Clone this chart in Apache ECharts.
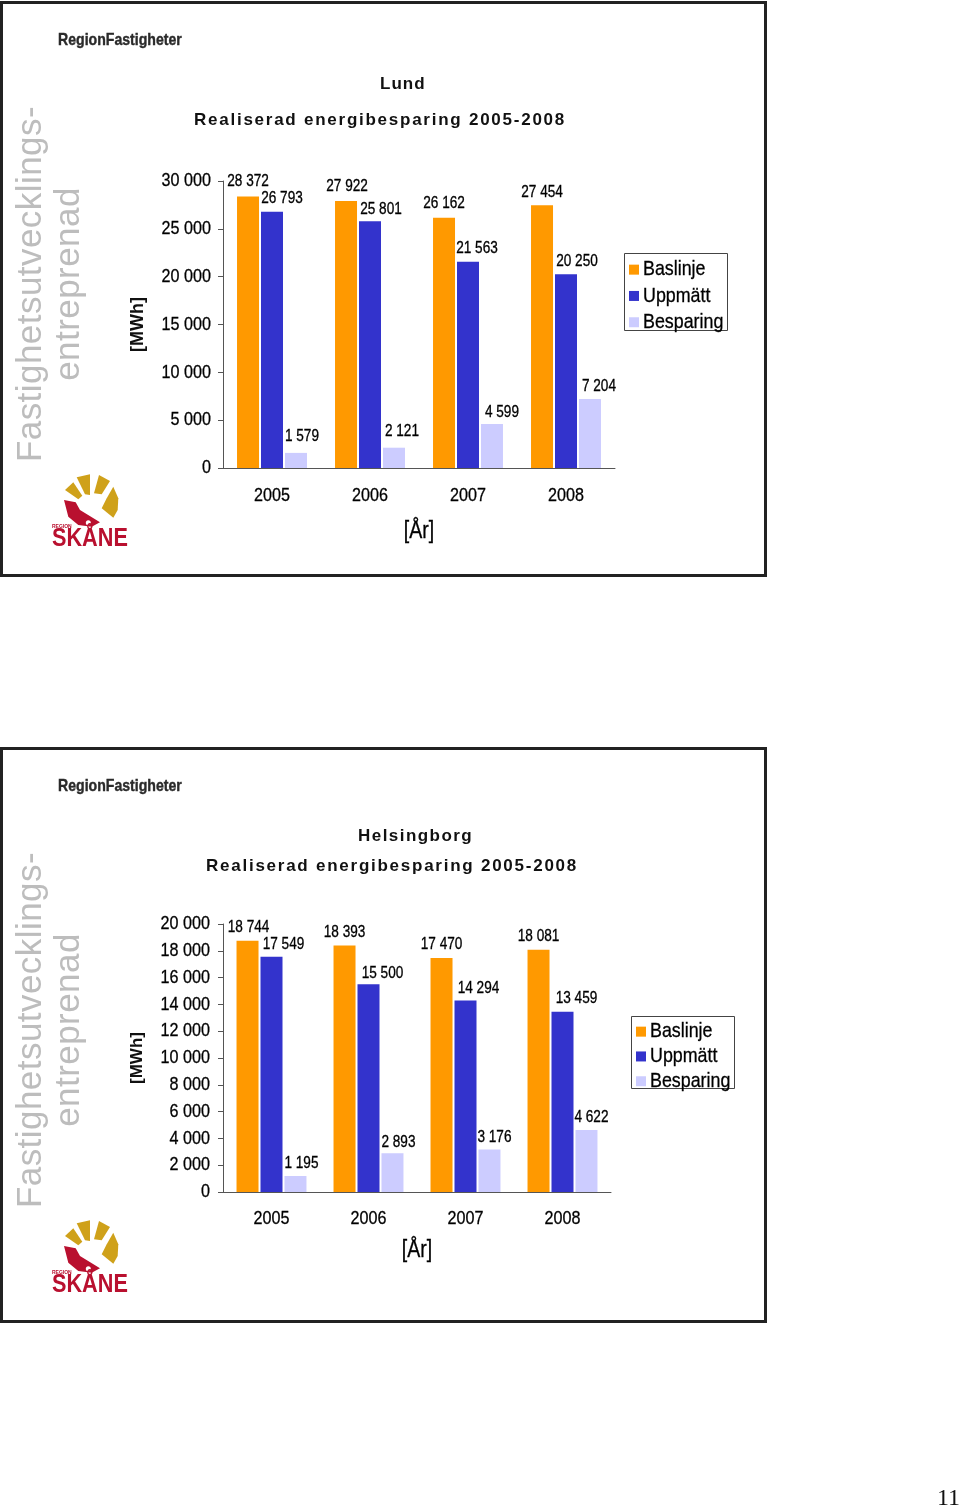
<!DOCTYPE html>
<html><head><meta charset="utf-8">
<style>html,body{margin:0;padding:0;background:#fff}#c{width:960px;height:1507px}</style>
<script src="https://cdn.jsdelivr.net/npm/echarts@6/dist/echarts.min.js"></script>
</head><body><div id="c"></div>
<script>
const categories = ['2005','2006','2007','2008'];
const seriesNames = ['Baslinje','Uppmätt','Besparing'];
const colors = ['#FF9900','#3333CC','#CCCCFF'];

const lundBaslinje = [28372,27922,26162,27454];
const lundUppmatt  = [26793,25801,21563,20250];
const lundBesparing= [1579,2121,4599,7204];

const hbgBaslinje  = [18744,18393,17470,18081];
const hbgUppmatt   = [17549,15500,14294,13459];
const hbgBesparing = [1195,2893,3176,4622];

// label displacement from the default "above bar" spot
const lundShift = [
  [[0,-3],[1,-2],[0,-2],[0,-1]],
  [[10,-1],[11,0],[9,-1],[11,-1]],
  [[6,-4],[8,-4],[10,1],[9,0]]
];
const hbgShift = [
  [[1,-1],[0,-1],[0,-1],[0,-1]],
  [[12,0],[14,1],[13,0],[14,-1]],
  [[6,0],[6,1],[5,0],[5,0]]
];

// No narrow face is installed: text asking for it is drawn in Liberation Sans, condensed.
const NARROW = '"Liberation Sans Narrow","Liberation Sans",Arial,sans-serif';
const SANS = '"Liberation Sans",Arial,sans-serif';
const CONDENSE = 0.85;
const fmt = v => String(v).replace(/\B(?=(\d{3})+$)/g,' ');
const HEAVY = {textBorderColor:'#000',textBorderWidth:0.3};

const tracked = {'Lund':1.0,'Helsingborg':1.45,'Realiserad energibesparing 2005-2008':1.75,
  'Fastighetsutvecklings-':0.45,'entreprenad':0.45};
function wrap(name){
  const orig = CanvasRenderingContext2D.prototype[name];
  CanvasRenderingContext2D.prototype[name] = function(t,x,y,m){
    const s = tracked[t];
    if (s && 'letterSpacing' in this){
      this.save();
      this.letterSpacing = s+'px';
      orig.call(this,t,x,y);
      this.letterSpacing = '0px';
      this.restore();
      return;
    }
    if (/Narrow/.test(this.font)){
      this.save();
      this.translate(x,y);
      this.scale(CONDENSE,1);
      orig.call(this,t,0,0);
      this.restore();
      return;
    }
    m===undefined?orig.call(this,t,x,y):orig.call(this,t,x,y,m);
  };
}
wrap('fillText'); wrap('strokeText');

function panel(dy, cityText, cityLeft, cityY, titleLeft, box){
  const txt = (text,x,y,font,fill)=>({type:'text',x,y:y+dy,
    style:{text,font,fill,align:'left',verticalAlign:'middle'}});
  const poly = (pts,fill)=>({type:'polygon',shape:{points:pts.map(p=>[p[0],p[1]+dy])},style:{fill}});
  const gold='#CFA11A', red='#B9102F';
  return [
    {type:'rect',shape:{x:1.5,y:2.5+dy,width:764,height:573},style:{fill:'#fff',stroke:'#222',lineWidth:3}},
    {type:'text',x:58,y:40+dy,style:{text:'RegionFastigheter',font:'bold 16.6px '+NARROW,fill:'#2a2a2a',stroke:'#2a2a2a',lineWidth:0.4,align:'left',verticalAlign:'middle'}},
    txt(cityText,cityLeft,cityY,'bold 17px '+SANS,'#111'),
    txt('Realiserad energibesparing 2005-2008',titleLeft,120,'bold 17px '+SANS,'#111'),
    {type:'text',x:31,y:284+dy,rotation:Math.PI/2,style:{text:'Fastighetsutvecklings-',font:'35px '+SANS,fill:'#BDBDBD',align:'center',verticalAlign:'middle'}},
    {type:'text',x:69,y:284+dy,rotation:Math.PI/2,style:{text:'entreprenad',font:'35px '+SANS,fill:'#BDBDBD',align:'center',verticalAlign:'middle'}},
    {type:'rect',shape:box,style:{fill:'none',stroke:'#444',lineWidth:1}},
    poly([[65,490],[73.3,482.3],[82.3,495.7],[78.3,499.3]],gold),
    poly([[76.7,477.3],[90,474.3],[90,495],[85,494.3]],gold),
    poly([[99,475],[110,481],[101.7,494.3],[94,493.3]],gold),
    poly([[113.3,486.7],[118.3,498.3],[117.7,510],[113.3,517.7],[101.7,508.3],[106.7,498.3]],gold),
    poly([[64,500],[75.7,502.3],[80,510],[100,522.3],[91.7,526.7],[78.3,525],[68.3,516.7]],red),
    {type:'circle',shape:{cx:88.3,cy:522.7+dy,r:2.5},style:{fill:'#fff'}},
    txt('REGION',52,527,'bold 5px '+SANS,red),
    txt('SKÅNE',52,539,'bold 25.5px '+NARROW,red)
  ];
}

function series(name,i,values,shift,axis){
  return {
    name,type:'bar',xAxisIndex:axis,yAxisIndex:axis,barWidth:22,barGap:'9%',
    itemStyle:{color:colors[i]},
    label:Object.assign({show:true,position:'top',distance:4,fontFamily:NARROW,fontSize:16,color:'#000',
      formatter:p=>fmt(p.value)},HEAVY),
    data:values.map((v,k)=>({value:v,label:{offset:shift[i][k]}}))
  };
}
const xAx = (g)=>({gridIndex:g,type:'category',data:categories,name:'[År]',nameLocation:'middle',
  nameGap:g?47:52,nameTextStyle:Object.assign({fontFamily:NARROW,fontSize:23,color:'#000'},HEAVY),
  axisTick:{show:false},axisLine:{lineStyle:{color:'#555',width:1}},
  axisLabel:Object.assign({fontFamily:NARROW,fontSize:19,color:'#000',margin:g?17:18},HEAVY)});
const yAx = (g,max,interval)=>({gridIndex:g,type:'value',min:0,max,interval,name:'[MWh]',nameLocation:'middle',
  nameGap:g?77:76,nameTextStyle:{fontFamily:SANS,fontWeight:'bold',fontSize:g?17:18,color:'#111'},
  splitLine:{show:false},axisTick:{show:true,length:5,lineStyle:{color:'#555'}},
  axisLine:{show:true,lineStyle:{color:'#555',width:1}},
  axisLabel:Object.assign({fontFamily:NARROW,fontSize:19,color:'#000',margin:g?13:12,padding:[2,0,0,0],formatter:fmt},HEAVY)});
const leg = (left,top,gap)=>({orient:'vertical',left,top,data:seriesNames,icon:'rect',itemWidth:10,itemHeight:10,itemGap:gap,
  padding:0,selectedMode:false,
  textStyle:Object.assign({fontFamily:NARROW,fontSize:21,color:'#000',padding:[0,0,0,-1]},HEAVY)});

const chart = echarts.init(document.getElementById('c'),null,{renderer:'canvas'});
chart.setOption({
  animation:false,backgroundColor:'#fff',
  grid:[{left:223,top:181,width:392,height:287},{left:223,top:924,width:388,height:268}],
  xAxis:[xAx(0),xAx(1)],
  yAxis:[yAx(0,30000,5000),yAx(1,20000,2000)],
  legend:[leg(629,259,5),leg(636,1021,3.5)],
  series:[
    series(seriesNames[0],0,lundBaslinje,lundShift,0),
    series(seriesNames[1],1,lundUppmatt,lundShift,0),
    series(seriesNames[2],2,lundBesparing,lundShift,0),
    series(seriesNames[0],0,hbgBaslinje,hbgShift,1),
    series(seriesNames[1],1,hbgUppmatt,hbgShift,1),
    series(seriesNames[2],2,hbgBesparing,hbgShift,1)
  ],
  graphic:{elements:[].concat(
    panel(0,'Lund',380,84,194,{x:624.5,y:253.5,width:103,height:77}),
    panel(746,'Helsingborg',358,90,206,{x:631.5,y:270.5+746,width:103,height:72}),
    [{type:'text',x:937,y:1499,style:{text:'11',font:'24px "Liberation Serif",serif',fill:'#111',verticalAlign:'middle'}}]
  ).map(e=>Object.assign({z:-1},e))}
});
</script></body></html>
